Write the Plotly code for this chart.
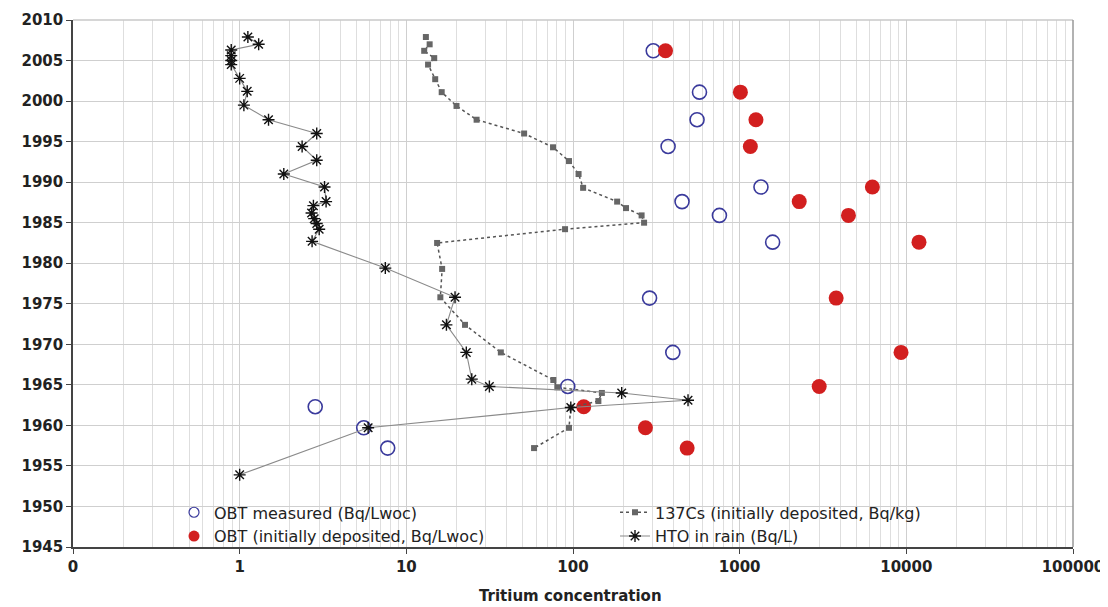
import plotly.graph_objects as go

# ---------------- data ----------------
hto_year = [2007.9, 2007.0, 2006.3, 2005.6, 2005.0, 2004.5, 2002.8, 2001.2, 1999.5,
            1997.7, 1996.0, 1994.4, 1992.7, 1991.0, 1989.4, 1987.6, 1987.1, 1986.2,
            1985.5, 1984.9, 1984.2, 1982.7, 1979.4, 1975.8, 1972.4, 1969.0, 1965.7,
            1964.8, 1964.0, 1963.1, 1962.2, 1959.7, 1953.9]
hto_val = [1.12, 1.30, 0.89, 0.89, 0.89, 0.89, 1.00, 1.11, 1.06,
           1.49, 2.90, 2.37, 2.90, 1.84, 3.23, 3.30, 2.77, 2.70,
           2.80, 2.90, 3.00, 2.72, 7.48, 19.6, 17.4, 22.9, 24.7,
           31.5, 196, 490, 97, 5.9, 1.0]

cs_year = [2007.9, 2007.0, 2006.2, 2005.3, 2004.5, 2002.7, 2001.1, 1999.4, 1997.7,
           1996.0, 1994.3, 1992.6, 1991.0, 1989.3, 1987.6, 1986.8, 1985.9, 1985.0,
           1984.2, 1982.5, 1979.3, 1975.8, 1972.4, 1969.0, 1965.6, 1964.7, 1964.0,
           1963.0, 1962.2, 1959.7, 1957.2]
cs_val = [13.1, 13.8, 12.8, 14.7, 13.5, 14.9, 16.3, 20.0, 26.4,
          50.9, 75.9, 94.6, 108, 115, 184, 208, 258, 267,
          89.6, 15.3, 16.4, 16.0, 22.5, 36.9, 76.2, 80.5, 149,
          142, 97, 94.6, 58.4]

obt_year = [2006.2, 2001.1, 1997.7, 1994.4, 1989.4, 1987.6, 1985.9, 1982.6,
            1975.7, 1969.0, 1964.8, 1962.3, 1959.7, 1957.2]
obt_meas = [303, 574, 555, 372, 1342, 451, 756, 1577, 288, 397, 93, 2.84, 5.55, 7.73]
obt_init = [359, 1010, 1252, 1159, 6255, 2277, 4495, 11910, 3793, 9294, 3000, 116, 272, 484]

x_ticks = [0.1, 1, 10, 100, 1000, 10000, 100000]
x_tick_labels = ["0", "1", "10", "100", "1000", "10000", "100000"]
y_ticks = list(range(1945, 2011, 5))

FONT = "DejaVu Sans"
BLUE = "#3a3a9c"
RED = "#d21f1f"

fig = go.Figure()

fig.add_trace(go.Scatter(
    x=obt_meas, y=obt_year, mode="markers", showlegend=False,
    marker=dict(symbol="circle-open", size=14, color=BLUE, line=dict(width=1.6))))
fig.add_trace(go.Scatter(
    x=obt_init, y=obt_year, mode="markers", showlegend=False,
    marker=dict(symbol="circle", size=15, color=RED)))
fig.add_trace(go.Scatter(
    x=cs_val, y=cs_year, mode="lines+markers", name="137Cs (initially deposited, Bq/kg)",
    line=dict(color="#555555", width=1.5, dash="dot"),
    marker=dict(symbol="square", size=6, color="#666666"),
    legend="legend2"))
fig.add_trace(go.Scatter(
    x=hto_val, y=hto_year, mode="lines+markers", name="HTO in rain (Bq/L)",
    line=dict(color="#8a8a8a", width=1.1),
    marker=dict(symbol="asterisk-open", size=10, color="#111111", line=dict(width=1.4, color="#111111")),
    legend="legend2"))

# legend-only entries (smaller symbols, as in the reference legend)
fig.add_trace(go.Scatter(
    x=[None], y=[None], mode="markers", name="OBT measured (Bq/Lwoc)",
    marker=dict(symbol="circle-open", size=10, color=BLUE, line=dict(width=1.2)),
    legend="legend"))
fig.add_trace(go.Scatter(
    x=[None], y=[None], mode="markers", name="OBT (initially deposited, Bq/Lwoc)",
    marker=dict(symbol="circle", size=11, color=RED),
    legend="legend"))

# white legend panel hiding the grid
fig.add_shape(type="rect", xref="paper", yref="paper", x0=0.063, x1=0.945, y0=0, y1=0.095,
              fillcolor="white", line=dict(width=0), layer="between")
# top and right frame
fig.add_shape(type="line", xref="paper", yref="paper", x0=0, x1=1, y0=1, y1=1,
              line=dict(color="#c8c8c8", width=1.5))
fig.add_shape(type="line", xref="paper", yref="paper", x0=1, x1=1, y0=0, y1=1,
              line=dict(color="#999999", width=1.5))

fig.add_annotation(text="<b>Tritium concentration</b>", xref="paper", yref="paper",
                   x=0.497, y=-0.093, xanchor="center", yanchor="middle", showarrow=False,
                   font=dict(size=15, family=FONT, color="#222"))

# the page body has an 8px margin, so the figure is sized/offset to compensate
fig.update_layout(
    width=1100, height=599,
    margin=dict(l=65, r=35, t=12, b=60, autoexpand=False),
    paper_bgcolor="white", plot_bgcolor="white",
    font=dict(family=FONT, color="#222222"),
    showlegend=True,
    legend=dict(x=0.101, y=0.098, xanchor="left", yanchor="top",
                bgcolor="rgba(0,0,0,0)", font=dict(size=16, family=FONT, color="#222"),
                tracegroupgap=0, itemsizing="trace"),
    legend2=dict(x=0.542, y=0.098, xanchor="left", yanchor="top",
                 bgcolor="rgba(0,0,0,0)", font=dict(size=16, family=FONT, color="#222"),
                 tracegroupgap=0, itemsizing="trace"),
)

fig.update_xaxes(
    type="log", range=[-1, 5], automargin=False,
    tickvals=x_ticks, ticktext=["<b>%s</b>" % t for t in x_tick_labels],
    tickfont=dict(size=15, family=FONT, color="#222"),
    ticks="outside", ticklen=5, tickcolor="#444",
    showline=True, linecolor="#444", linewidth=1.5,
    showgrid=True, gridcolor="#cfcfcf", gridwidth=1,
    minor=dict(showgrid=True, gridcolor="#dedede", gridwidth=1, dtick="D1", ticks=""),
    zeroline=False)
fig.update_yaxes(
    range=[1945, 2010], automargin=False,
    tickvals=y_ticks, ticktext=["<b>%d</b>" % t for t in y_ticks],
    tickfont=dict(size=15, family=FONT, color="#222"),
    ticks="outside", ticklen=5, tickcolor="#444",
    showline=True, linecolor="#444", linewidth=1.5,
    showgrid=True, gridcolor="#cfcfcf", gridwidth=1,
    zeroline=False)

fig.write_html("out.html")
